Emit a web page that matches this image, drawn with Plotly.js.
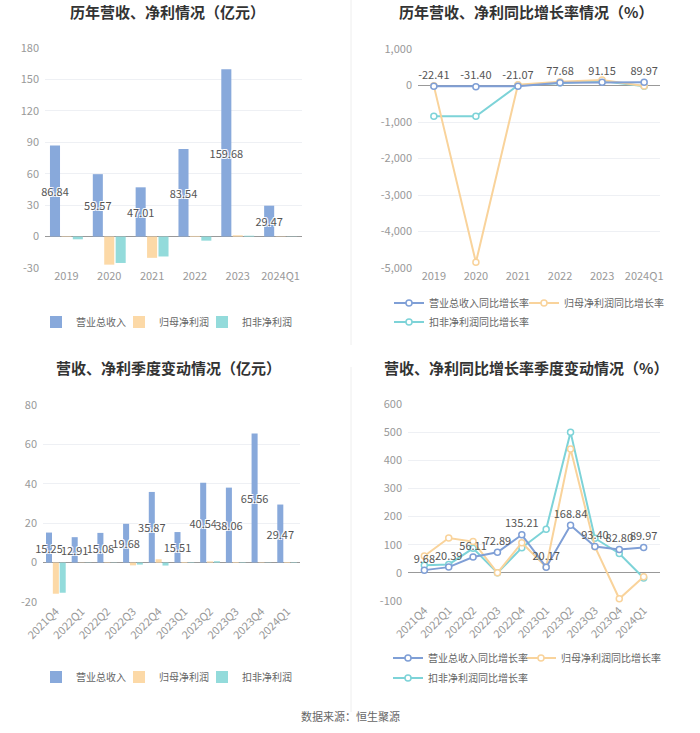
<!DOCTYPE html>
<html>
<head>
<meta charset="utf-8">
<script src="https://cdn.plot.ly/plotly-3.0.1.min.js"></script>
<style>
  body { margin: 0; background: #fff; }
  #chart { width: 700px; height: 733px; }
</style>
</head>
<body>
<div id="chart"></div>
<script>
// yearly values (亿元)
var years = ['2019', '2020', '2021', '2022', '2023', '2024Q1'];
var yearRevenue = [86.84, 59.57, 47.01, 83.54, 159.68, 29.47];
var yearNetProfit = [0.4, -26.8, -20.3, 0.6, 1.2, 0.3];
var yearDeductProfit = [-2.6, -25.2, -19.0, -3.9, 0.8, 0.2];

// yearly growth (%)
var yearRevenueGrowth = [-22.41, -31.40, -21.07, 77.68, 91.15, 89.97];
var yearNetGrowth = [-10, -4845, 20, 105, 150, -14];
var yearDeductGrowth = [-845, -845, 5, 73, 125, -18];

// quarterly values (亿元)
var quarters = ['2021Q4', '2022Q1', '2022Q2', '2022Q3', '2022Q4', '2023Q1', '2023Q2', '2023Q3', '2023Q4', '2024Q1'];
var qRevenue = [15.25, 12.91, 15.08, 19.68, 35.87, 15.51, 40.54, 38.06, 65.56, 29.47];
var qNetProfit = [-15.8, 0.1, 0.2, -1.4, 1.7, 0.3, 0.6, 0.3, 0.2, 0.3];
var qDeductProfit = [-15.3, 0.1, 0.1, -1.0, -1.5, 0.2, 0.7, 0.2, 0.1, 0.2];

// quarterly growth (%)
var qRevenueGrowth = [9.68, 20.39, 56.11, 72.89, 135.21, 20.17, 168.84, 93.40, 82.80, 89.97];
var qNetGrowth = [60, 124, 111, 0, 107, 21, 440, 93, -92, -14];
var qDeductGrowth = [27, 30, 87, 0, 89, 155, 500, 123, 69, -18];

// y tick labels
var y1Ticks = [-30, 0, 30, 60, 90, 120, 150, 180];
var y1Text = ['-30', '0', '30', '60', '90', '120', '150', '180'];
var y2Ticks = [-5000, -4000, -3000, -2000, -1000, 0, 1000];
var y2Text = ['-5,000', '-4,000', '-3,000', '-2,000', '-1,000', '0', '1,000'];
var y3Ticks = [-20, 0, 20, 40, 60, 80];
var y3Text = ['-20', '0', '20', '40', '60', '80'];
var y4Ticks = [-100, 0, 100, 200, 300, 400, 500, 600];
var y4Text = ['-100', '0', '100', '200', '300', '400', '500', '600'];

var W = 700, H = 733;
function px(v){ return v / W; }
function py(v){ return 1 - v / H; }

var FONT = '"Noto Sans CJK SC", "Noto Sans", sans-serif';
var blueBar = '#88a9db', orangeBar = '#fcd9a7', tealBar = '#93dbdb';
var blueLine = '#7f9fd6', orangeLine = '#f9d39b', tealLine = '#7dd3d8';
var halo = '1px 1px 0 #fff, -1px -1px 0 #fff, 1px -1px 0 #fff, -1px 1px 0 #fff';

function fmt(arr){
  return arr.map(function(v){ return v.toFixed(2); });
}

function barTrace(x, y, name, color, xa, ya, legend, labels){
  var t = {
    type: 'bar',
    x: x, y: y, name: name,
    xaxis: xa, yaxis: ya,
    legend: legend, showlegend: true,
    marker: {color: color},
    cliponaxis: false,
    hoverinfo: 'skip'
  };
  if(labels){
    t.text = fmt(y);
    t.textposition = 'inside';
    t.insidetextanchor = 'middle';
    t.constraintext = 'none';
    t.textangle = 0;
    t.textfont = {size: 11, color: '#555', family: FONT, shadow: halo};
  }
  return t;
}

function lineTrace(x, y, name, color, xa, ya, legend, labels){
  var t = {
    type: 'scatter',
    x: x, y: y, name: name,
    xaxis: xa, yaxis: ya,
    legend: legend, showlegend: true,
    mode: labels ? 'lines+markers+text' : 'lines+markers',
    line: {color: color, width: 2},
    marker: {symbol: 'circle', size: 6, color: '#fff', line: {color: color, width: 1.5}},
    cliponaxis: false,
    hoverinfo: 'skip'
  };
  if(labels){
    t.text = fmt(y);
    t.textposition = 'top center';
    t.textfont = {size: 11, color: '#555', family: FONT};
  }
  return t;
}

var data = [
  barTrace(years, yearRevenue, '营业总收入', blueBar, 'x', 'y', 'legend', true),
  barTrace(years, yearNetProfit, '归母净利润', orangeBar, 'x', 'y', 'legend2', false),
  barTrace(years, yearDeductProfit, '扣非净利润', tealBar, 'x', 'y', 'legend3', false),

  lineTrace(years, yearDeductGrowth, '扣非净利润同比增长率', tealLine, 'x2', 'y2', 'legend6', false),
  lineTrace(years, yearNetGrowth, '归母净利润同比增长率', orangeLine, 'x2', 'y2', 'legend5', false),
  lineTrace(years, yearRevenueGrowth, '营业总收入同比增长率', blueLine, 'x2', 'y2', 'legend4', true),

  barTrace(quarters, qRevenue, '营业总收入', blueBar, 'x3', 'y3', 'legend7', true),
  barTrace(quarters, qNetProfit, '归母净利润', orangeBar, 'x3', 'y3', 'legend8', false),
  barTrace(quarters, qDeductProfit, '扣非净利润', tealBar, 'x3', 'y3', 'legend9', false),

  lineTrace(quarters, qDeductGrowth, '扣非净利润同比增长率', tealLine, 'x4', 'y4', 'legend12', false),
  lineTrace(quarters, qNetGrowth, '归母净利润同比增长率', orangeLine, 'x4', 'y4', 'legend11', false),
  lineTrace(quarters, qRevenueGrowth, '营业总收入同比增长率', blueLine, 'x4', 'y4', 'legend10', true)
];

function xAxis(domain, anchor, angle){
  return {
    domain: domain, anchor: anchor, type: 'category',
    showgrid: false, showline: false, zeroline: false, ticks: '',
    tickangle: angle,
    tickfont: {size: 11, color: '#999', family: FONT},
    fixedrange: true
  };
}
function yAxis(domain, anchor, range, vals, text){
  return {
    domain: domain, anchor: anchor, range: range,
    tickmode: 'array', tickvals: vals, ticktext: text,
    showgrid: true, gridcolor: '#eef0f4', gridwidth: 1,
    zeroline: true, zerolinecolor: '#999', zerolinewidth: 1,
    showline: false, ticks: '', ticklabelstandoff: 5,
    tickfont: {size: 11, color: '#999', family: FONT},
    fixedrange: true
  };
}
// one legend box per entry, so each entry sits where the reference puts it
function legendBox(x, y){
  return {
    visible: true,
    orientation: 'h', x: px(x), y: py(y), xanchor: 'left', yanchor: 'middle',
    font: {size: 10, color: '#666', family: FONT},
    bgcolor: 'rgba(0,0,0,0)', itemwidth: 30
  };
}
function title(text, x, y){
  return {
    text: text, xref: 'paper', yref: 'paper', x: x, y: y,
    xanchor: 'center', yanchor: 'middle', showarrow: false,
    font: {size: 15, color: '#333', family: FONT, weight: 'bold'}
  };
}
function sep(y0, y1){
  return {type: 'line', xref: 'paper', yref: 'paper',
    x0: px(351), x1: px(351), y0: py(y0), y1: py(y1),
    line: {color: '#eeeeee', width: 1}};
}

var layout = {
  width: W, height: H,
  margin: {l: 0, r: 0, t: 0, b: 0},
  paper_bgcolor: '#fff', plot_bgcolor: '#fff',
  font: {family: FONT},
  showlegend: true,
  barmode: 'group', bargap: 0.2, bargroupgap: 0.12,
  xaxis: xAxis([px(45), px(302)], 'y', 0),
  yaxis: yAxis([py(268), py(48)], 'x', [-30, 180], y1Ticks, y1Text),
  xaxis2: xAxis([px(418), px(660)], 'y2', 0),
  yaxis2: yAxis([py(268), py(49)], 'x2', [-5000, 1000], y2Ticks, y2Text),
  xaxis3: xAxis([px(43), px(300)], 'y3', -45),
  yaxis3: yAxis([py(602), py(405)], 'x3', [-20, 80], y3Ticks, y3Text),
  xaxis4: xAxis([px(408), px(660)], 'y4', -45),
  yaxis4: yAxis([py(601), py(404)], 'x4', [-100, 600], y4Ticks, y4Text),
  legend: legendBox(36, 322),
  legend2: legendBox(119, 322),
  legend3: legendBox(202, 322),
  legend4: legendBox(389, 303),
  legend5: legendBox(524, 303),
  legend6: legendBox(389, 322),
  legend7: legendBox(36, 677),
  legend8: legendBox(119, 677),
  legend9: legendBox(202, 677),
  legend10: legendBox(388, 658),
  legend11: legendBox(521, 658),
  legend12: legendBox(388, 678),
  annotations: [
    title('历年营收、净利情况（亿元）', px(167), py(12)),
    title('历年营收、净利同比增长率情况（%）', px(526), py(12)),
    title('营收、净利季度变动情况（亿元）', px(168), py(367)),
    title('营收、净利同比增长率季度变动情况（%）', px(526), py(367)),
    {text: '数据来源：恒生聚源', xref: 'paper', yref: 'paper', x: 0.5, y: py(716),
     xanchor: 'center', yanchor: 'middle', showarrow: false,
     font: {size: 11, color: '#666', family: FONT}}
  ],
  shapes: [sep(0, 345), sep(367, 712)]
};

Plotly.newPlot('chart', data, layout, {displayModeBar: false, staticPlot: true});
</script>
</body>
</html>
